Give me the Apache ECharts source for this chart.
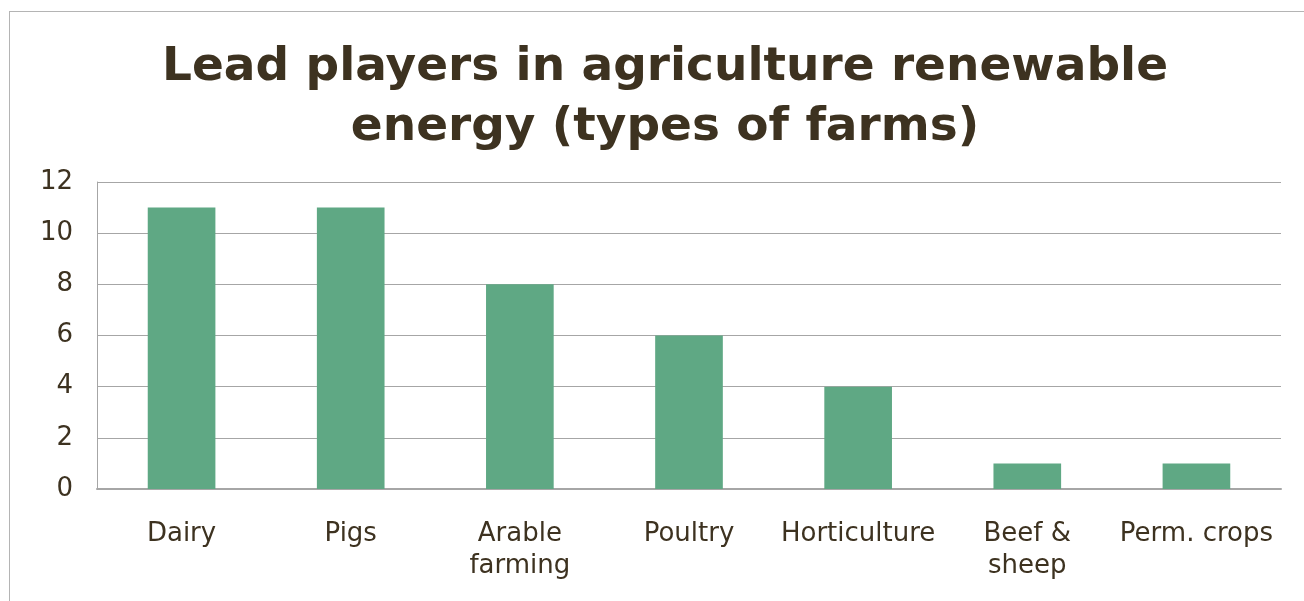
<!DOCTYPE html>
<html><head><meta charset="utf-8">
<script src="https://cdn.jsdelivr.net/npm/echarts@6/dist/echarts.min.js"></script>
<style>html,body{margin:0;padding:0;background:#fff}
#frame{position:absolute;left:9px;top:11px;width:1400px;height:700px;border:1px solid #b4b4b4;box-sizing:border-box}
#c{position:absolute;left:0;top:0;width:1304px;height:601px}</style>
</head><body><div id="frame"></div><div id="c"></div>
<script>
const categories = ['Dairy', 'Pigs', 'Arable\nfarming', 'Poultry', 'Horticulture', 'Beef &\nsheep', 'Perm. crops'];
const values = [11, 11, 8, 6, 4, 1, 1];
const titleText = 'Lead players in agriculture renewable\nenergy (types of farms)';
const txt = '#3d3220';
const chart = echarts.init(document.getElementById('c'));
chart.setOption({
  animation: false,
  title: {text: titleText, left: 660, top: 33, textAlign: 'center',
    textStyle: {fontFamily: 'DejaVu Sans', fontWeight: 'bold', fontSize: 47, lineHeight: 60, color: txt}},
  grid: {left: 97, right: 23, top: 182, bottom: 112},
  xAxis: {type: 'category', data: categories,
    axisLine: {lineStyle: {color: '#a6a6a6', width: 2}}, axisTick: {show: false},
    axisLabel: {fontFamily: 'DejaVu Sans', fontSize: 26, color: txt, margin: 29, lineHeight: 32, interval: 0}},
  yAxis: {type: 'value', min: 0, max: 12, interval: 2,
    axisLine: {show: true, lineStyle: {color: '#a6a6a6', width: 1}}, axisTick: {show: false},
    splitLine: {lineStyle: {color: '#a6a6a6', width: 1}},
    axisLabel: {fontFamily: 'DejaVu Sans', fontSize: 26, color: txt, margin: 24}},
  series: [{type: 'bar', data: values, barWidth: '40%', itemStyle: {color: '#5fa884'}}]
});
</script></body></html>
